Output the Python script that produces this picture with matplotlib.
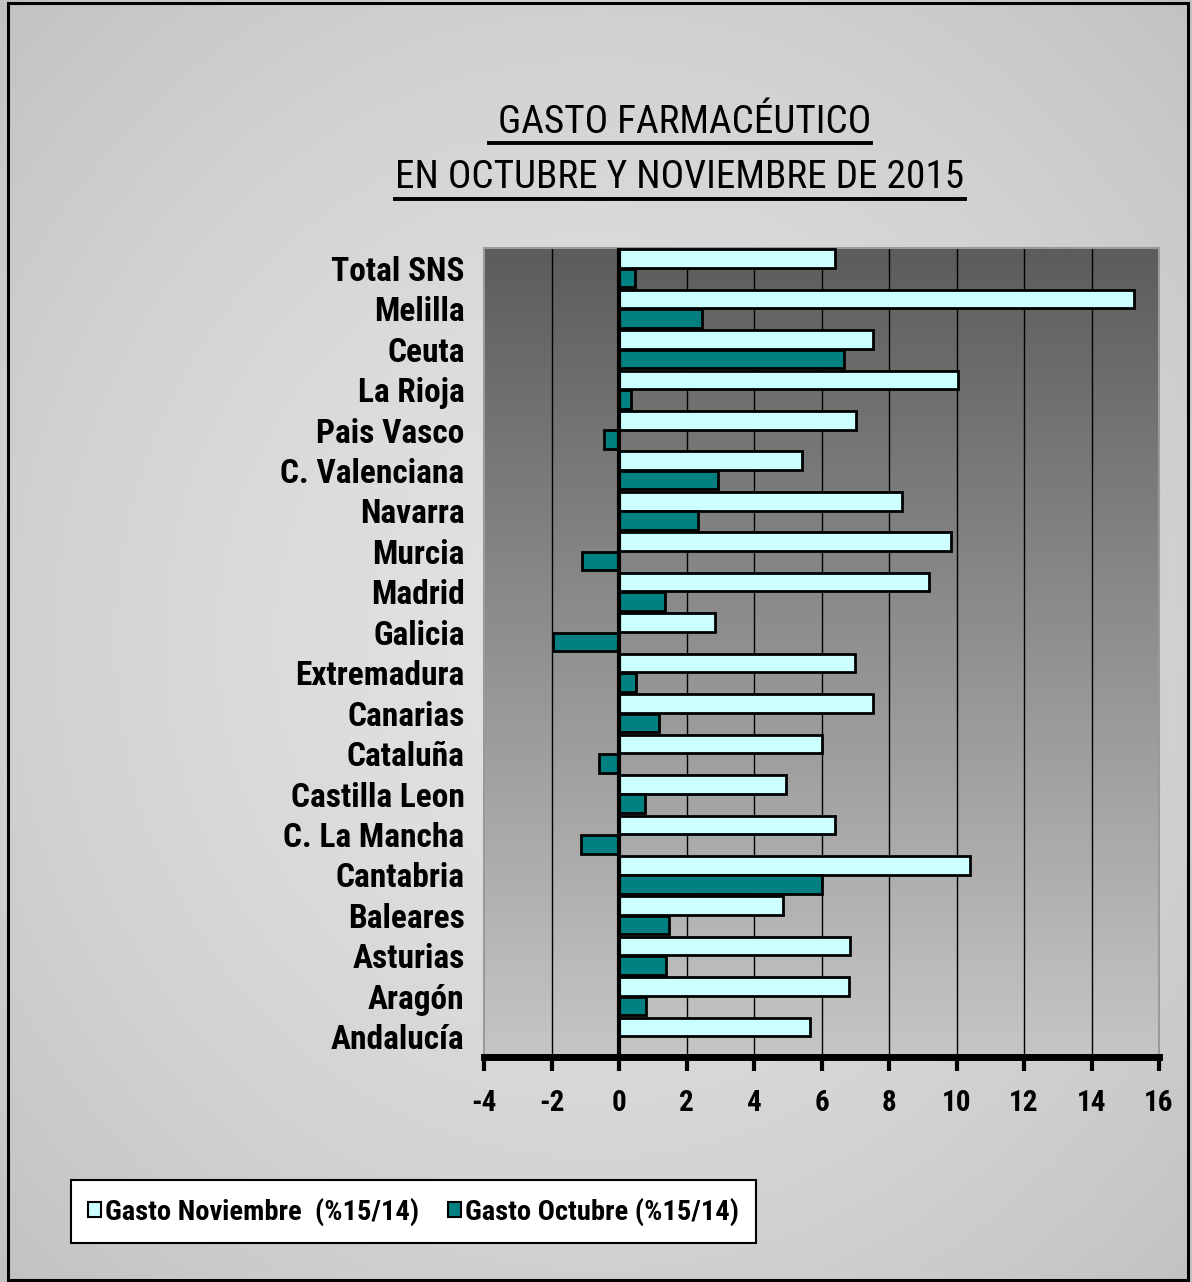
import numpy as np
import matplotlib
matplotlib.use("Agg")
import matplotlib.pyplot as plt
from matplotlib import font_manager as fm
from matplotlib.patches import Patch, Rectangle
from matplotlib.lines import Line2D


# ============================================
# DATA
# ============================================

regions = [
    "Total SNS", "Melilla", "Ceuta", "La Rioja", "Pais Vasco",
    "C. Valenciana", "Navarra", "Murcia", "Madrid", "Galicia",
    "Extremadura", "Canarias", "Cataluña", "Castilla Leon",
    "C. La Mancha", "Cantabria", "Baleares", "Asturias", "Aragón",
    "Andalucía"
]

gasto_noviembre = [
    6.41, 15.26, 7.52, 10.03, 7.03,
    5.42, 8.38, 9.83, 9.19, 2.85,
    6.99, 7.52, 6.00, 4.95,
    6.39, 10.41, 4.87, 6.84, 6.81,
    5.66
]

gasto_octubre = [
    0.48, 2.47, 6.68, 0.37, -0.45,
    2.94, 2.34, -1.09, 1.35, -1.97,
    0.50, 1.18, -0.58, 0.76,
    -1.14, 6.00, 1.48, 1.40, 0.80,
    np.nan
]

x_ticks = [-4, -2, 0, 2, 4, 6, 8, 10, 12, 14, 16]

title_lines = [" GASTO FARMACÉUTICO", "EN OCTUBRE Y NOVIEMBRE DE 2015"]
legend_labels = ["Gasto Noviembre  (%15/14)", "Gasto Octubre (%15/14)"]


# ============================================
# FONT (narrow if available)
# ============================================

names = {f.name for f in fm.fontManager.ttflist}
narrow = None
for cand in ["Liberation Sans Narrow", "Arial Narrow", "Roboto Condensed",
             "DejaVu Sans Condensed", "Open Sans Condensed",
             "Noto Sans Condensed"]:
    if cand in names:
        narrow = cand
        break

if narrow is None:
    narrow = "Liberation Sans"
    stretch = "condensed"
else:
    stretch = "normal"

plt.rcParams["font.family"] = [narrow, "DejaVu Sans"]
plt.rcParams["font.stretch"] = stretch


# ============================================
# FIGURE
# ============================================

W, H = 1192, 1282
fig = plt.figure(figsize=(W / 100, H / 100), dpi=100)

# figure background gradient
bg = fig.add_axes([0, 0, 1, 1], zorder=-10)
gx = np.linspace(-1, 1, 300)
gy = np.linspace(-1, 1, 300)
GX, GY = np.meshgrid(gx, gy)
r = np.clip(np.sqrt(GX ** 2 + GY ** 2) / np.sqrt(2), 0, 1)
val = (226 - 32 * r ** 1.6) / 255.0
bg.imshow(np.dstack([val, val, val]), extent=[0, 1, 0, 1],
          aspect="auto", interpolation="bilinear")
bg.set_xlim(0, 1)
bg.set_ylim(0, 1)
bg.axis("off")

# outer border
fig.patches.append(Rectangle((8 / W, 1 - 1280 / H), 1180 / W, 1277 / H,
                             transform=fig.transFigure, fill=False,
                             edgecolor="black", linewidth=2.2, zorder=5))

ax = fig.add_axes([484 / W, 1 - 1057 / H, 675 / W, 809 / H])

# plot area gradient
grad = np.linspace(92, 198, 256) / 255.0
grad = np.repeat(grad[:, None], 2, axis=1)
ax.imshow(np.dstack([grad, grad, grad]), extent=[0, 1, 0, 1],
          transform=ax.transAxes, aspect="auto", zorder=0,
          interpolation="bilinear")

n = len(regions)
y = np.arange(n)
h = 0.46

ax.barh(y - h / 2 - 0.01, gasto_noviembre, height=h, color="#ccffff",
        edgecolor="black", linewidth=2.0, zorder=3,
        label=legend_labels[0])
ax.barh(y + h / 2 + 0.01, gasto_octubre, height=h, color="#008080",
        edgecolor="black", linewidth=2.0, zorder=3,
        label=legend_labels[1])

ax.set_xlim(-4, 16)
ax.set_ylim(n - 0.5, -0.5)
ax.set_xticks(x_ticks)
ax.set_xticklabels([str(t) for t in x_ticks], fontsize=21,
                   fontweight="bold")
ax.set_yticks(y)
ax.set_yticklabels(regions, fontsize=24, fontweight="bold")

ax.tick_params(axis="y", length=0, pad=14)
ax.tick_params(axis="x", direction="out", length=10, width=3, pad=13)

for xv in x_ticks[1:-1]:
    ax.axvline(xv, color="black", linewidth=1.0, zorder=1)
ax.axvline(0, color="black", linewidth=3.0, zorder=4)

for s in ["left", "top", "right"]:
    ax.spines[s].set_color("#9a9a9a")
    ax.spines[s].set_linewidth(1.5)
ax.spines["bottom"].set_color("black")
ax.spines["bottom"].set_linewidth(5)
ax.spines["bottom"].set_zorder(6)


# ============================================
# TITLE WITH UNDERLINE
# ============================================

title_y = [1 - 133 / H, 1 - 188 / H]
line_y = [1 - 142.5 / H, 1 - 199 / H]
title_texts = []
for txt, ty in zip(title_lines, title_y):
    t = fig.text(680 / W, ty, txt, ha="center", va="baseline",
                 fontsize=28.3, color="black")
    title_texts.append(t)

fig.canvas.draw()
renderer = fig.canvas.get_renderer()
inv = fig.transFigure.inverted()
for t, ly in zip(title_texts, line_y):
    bb = t.get_window_extent(renderer)
    (x0, _), (x1, _) = inv.transform([(bb.x0, 0), (bb.x1, 0)])
    fig.lines.append(Line2D([x0, x1], [ly, ly], transform=fig.transFigure,
                            color="black", linewidth=2.8))


# ============================================
# LEGEND
# ============================================

handles = [
    Patch(facecolor="#ccffff", edgecolor="black", linewidth=1.5),
    Patch(facecolor="#008080", edgecolor="black", linewidth=1.5),
]
leg = fig.legend(handles, legend_labels, loc="center",
                 bbox_to_anchor=(413.5 / W, 1 - 1211.5 / H),
                 ncol=2, frameon=True, fancybox=False,
                 edgecolor="black", facecolor="white", framealpha=1,
                 handlelength=0.45, handleheight=0.45, handletextpad=0.15,
                 columnspacing=1.0, borderpad=0.6,
                 prop={"weight": "bold", "size": 20.5})
leg.get_frame().set_linewidth(1.5)

fig.savefig("out.png", dpi=100)
